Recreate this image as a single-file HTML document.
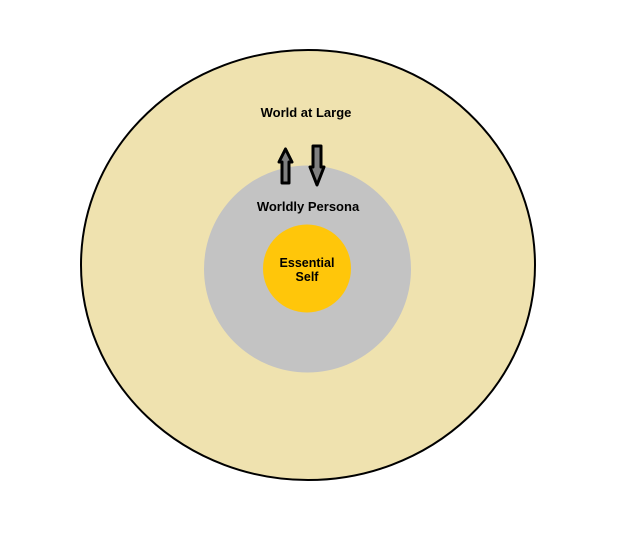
<!DOCTYPE html>
<html><head><style>body{margin:0;background:#fff}</style></head><body>
<svg width="621" height="544" xmlns="http://www.w3.org/2000/svg" style="display:block">
<ellipse cx="308" cy="265" rx="227" ry="215" fill="#EFE2AF" stroke="#000" stroke-width="2"/>
<circle cx="307.5" cy="269" r="103.5" fill="#C3C3C3"/>
<circle cx="307" cy="268.5" r="44" fill="#FFC60A"/>
<text x="306" y="117" font-family="Liberation Sans, sans-serif" font-weight="bold" font-size="13" text-anchor="middle">World at Large</text>
<text x="308" y="211" font-family="Liberation Sans, sans-serif" font-weight="bold" font-size="13" text-anchor="middle">Worldly Persona</text>
<text x="307" y="267" font-family="Liberation Sans, sans-serif" font-weight="bold" font-size="12.5" text-anchor="middle">Essential</text>
<text x="307" y="281" font-family="Liberation Sans, sans-serif" font-weight="bold" font-size="12.5" text-anchor="middle">Self</text>
<polygon points="285.5,149 292,162 289,162 289,183 282,183 282,162 279,162" fill="#808080" stroke="#000" stroke-width="3" stroke-linejoin="round"/>
<polygon points="313,146 321,146 321,167 324,167 317,185 310,167 313,167" fill="#808080" stroke="#000" stroke-width="3" stroke-linejoin="round"/>
</svg>
</body></html>
